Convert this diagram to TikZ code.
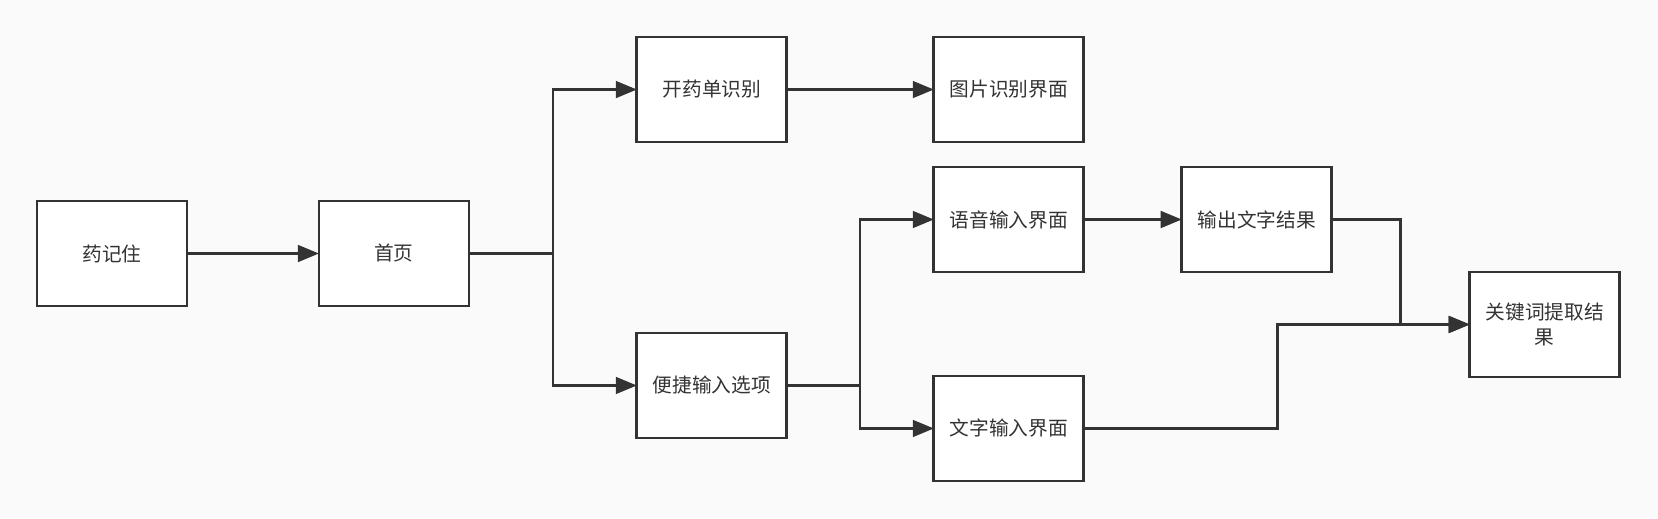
\documentclass[tikz,border=0pt]{standalone}
\usepackage{fontspec}
\newfontfamily\cjk{Noto Sans CJK SC}
\usepackage{tikz}
\usetikzlibrary{positioning,arrows.meta}
\definecolor{linegray}{HTML}{333333}
\definecolor{bggray}{HTML}{FAFAFA}

\begin{document}
\begin{tikzpicture}[
  x=0.02cm, y=-0.02cm,
  every node/.style={font=\cjk\fontsize{11.2}{14.5}\selectfont, text=linegray},
  page/.style={rectangle, draw=linegray, line width=1.6pt, fill=white, align=center,
               minimum width=3cm, minimum height=2.1cm, inner sep=2pt, outer sep=0pt},
  flow/.style={-{Triangle[length=12pt, width=9.5pt]}, draw=linegray, line width=1.5pt},
  link/.style={draw=linegray, line width=1.5pt}
]
\fill[bggray] (0,0) rectangle (1658,518);
\useasboundingbox (0,0) rectangle (1658,518);

% main line
\node[page] (yao) at (112,253.5) {药记住};
\node[page, right=2.64cm of yao] (home) {首页};
\node[page, right=3.36cm of home, yshift=3.28cm] (kai) {开药单识别};
\node[page, right=3.36cm of home, yshift=-2.64cm] (bian) {便捷输入选项};
\node[page, right=2.94cm of kai] (tupian) {图片识别界面};
\node[page, below=0.5cm of tupian] (yuyin) {语音输入界面};
\node[page, right=2.94cm of bian, yshift=-0.86cm] (wenzi) {文字输入界面};
\node[page, right=1.96cm of yuyin] (shuchu) {输出文字结果};
\node[page, right=2.76cm of shuchu, yshift=-2.1cm] (guanjian) {关键词提取结\\果};

\coordinate (hsplit) at ([xshift=1.68cm]home.east);
\coordinate (bsplit) at ([xshift=1.46cm]bian.east);
\coordinate (smerge) at ([xshift=1.38cm]shuchu.east);
\coordinate (wmerge) at ([xshift=3.88cm]wenzi.east);

\draw[flow] (yao) -- (home);
\draw[link] (home.east) -- (hsplit);
\draw[flow] (hsplit) |- (kai.west);
\draw[flow] (hsplit) |- (bian.west);
\draw[flow] (kai) -- (tupian);

% input options
\draw[link] (bian.east) -- (bsplit);
\draw[flow] (bsplit) |- (yuyin.west);
\draw[flow] (bsplit) |- (wenzi.west);
\draw[flow] (yuyin) -- (shuchu);

% both results go to keyword extraction
\draw[flow] (shuchu.east) -- (smerge) |- (guanjian.west);
\draw[flow] (wenzi.east) -- (wmerge) |- (guanjian.west);
\end{tikzpicture}
\end{document}
